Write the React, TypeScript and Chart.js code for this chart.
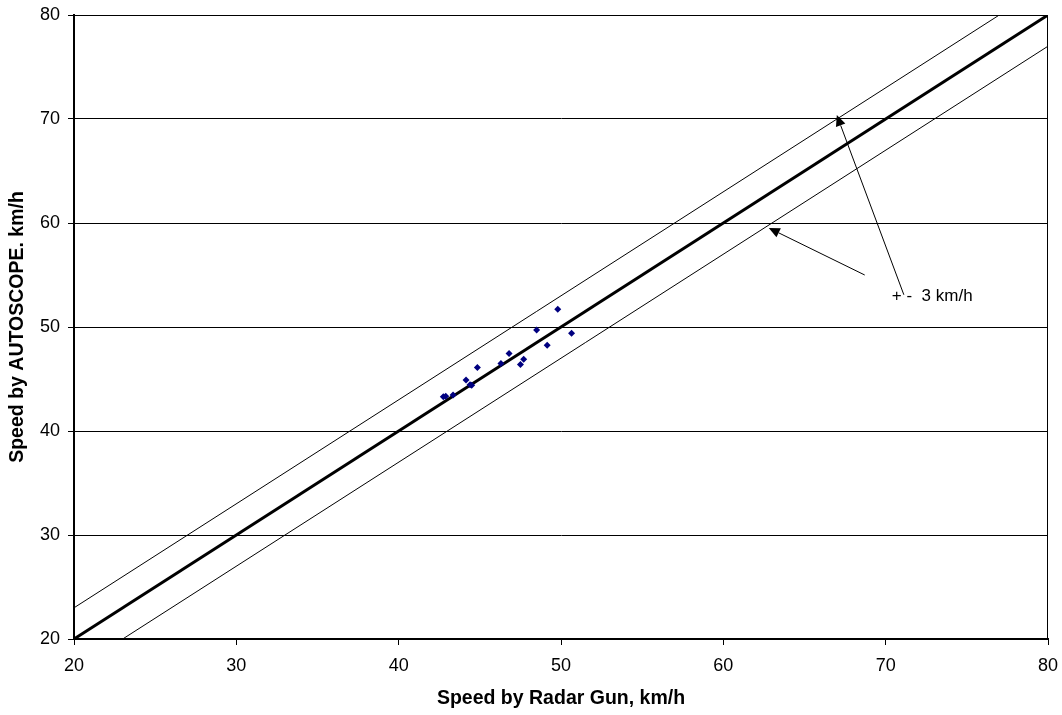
import React, { useEffect, useRef } from 'react';
import { Chart, registerables } from 'chart.js';

Chart.register(...registerables);

// Measured points: speed by radar gun (x) vs speed by AUTOSCOPE (y), km/h
const radarGun = [49.8, 48.5, 50.65, 49.15, 46.8, 46.3, 47.7, 47.5, 44.85, 44.15, 44.4, 44.5, 43.35, 42.75, 42.9];
const autoscope = [51.7, 49.7, 49.4, 48.25, 47.45, 46.5, 46.9, 46.4, 46.1, 44.9, 44.45, 44.4, 43.45, 43.3, 43.35];

// Reference lines: y = x and the +/- 3 km/h band
const equalX = [20, 80];
const equalY = [20, 80];
const upperX = [20, 77];
const upperY = [23, 80];
const lowerX = [23, 80];
const lowerY = [20, 77];

const axisTicks = [20, 30, 40, 50, 60, 70, 80];

const xTitle = 'Speed by Radar Gun, km/h';
const yTitle = 'Speed by AUTOSCOPE. km/h';

// Annotation (in data units)
const noteText = '+ -  3 km/h';
const noteX = 70.38;
const noteY = 52.95;
const arrowFromX = [71.12, 68.71];
const arrowFromY = [53.1, 55.0];
const arrowToX = [66.99, 62.8];
const arrowToY = [70.38, 59.52];

const FONT = '"Liberation Sans", Arial, Helvetica, sans-serif';

const zip = (xs: number[], ys: number[]) => xs.map((x, i) => ({ x, y: ys[i] }));

const framePlugin = {
  id: 'frameAndNotes',
  beforeDatasetsDraw(chart: any) {
    const { ctx, chartArea } = chart;
    ctx.save();
    ctx.strokeStyle = '#000';
    ctx.lineWidth = 1;
    ctx.beginPath();
    ctx.moveTo(chartArea.left, chartArea.top + 0.5);
    ctx.lineTo(chartArea.right - 0.5, chartArea.top + 0.5);
    ctx.lineTo(chartArea.right - 0.5, chartArea.bottom);
    ctx.stroke();
    ctx.restore();
  },
  afterDatasetsDraw(chart: any) {
    const { ctx } = chart;
    const xs = chart.scales.x;
    const ys = chart.scales.y;
    ctx.save();
    ctx.strokeStyle = '#000';
    ctx.fillStyle = '#000';
    ctx.lineWidth = 1;
    for (let i = 0; i < arrowFromX.length; i++) {
      const x0 = xs.getPixelForValue(arrowFromX[i]);
      const y0 = ys.getPixelForValue(arrowFromY[i]);
      const x1 = xs.getPixelForValue(arrowToX[i]);
      const y1 = ys.getPixelForValue(arrowToY[i]);
      const ang = Math.atan2(y1 - y0, x1 - x0);
      const len = 11;
      const hw = 5;
      const bx = x1 - len * Math.cos(ang);
      const by = y1 - len * Math.sin(ang);
      ctx.beginPath();
      ctx.moveTo(x0, y0);
      ctx.lineTo(bx, by);
      ctx.stroke();
      ctx.beginPath();
      ctx.moveTo(x1, y1);
      ctx.lineTo(bx + hw * Math.sin(ang), by - hw * Math.cos(ang));
      ctx.lineTo(bx - hw * Math.sin(ang), by + hw * Math.cos(ang));
      ctx.closePath();
      ctx.fill();
    }
    ctx.font = `17px ${FONT}`;
    ctx.textAlign = 'left';
    ctx.textBaseline = 'middle';
    ctx.fillText(noteText, xs.getPixelForValue(noteX), ys.getPixelForValue(noteY));
    ctx.restore();
  },
};

export default function App() {
  const ref = useRef<HTMLCanvasElement | null>(null);

  useEffect(() => {
    if (!ref.current) return;
    const chart = new Chart(ref.current, {
      type: 'scatter',
      data: {
        datasets: [
          {
            label: 'Measurements',
            data: zip(radarGun, autoscope),
            backgroundColor: '#000080',
            borderColor: '#000080',
            pointStyle: 'rectRot',
            pointRadius: 3.5,
            borderWidth: 0,
            showLine: false,
          },
          {
            label: 'y = x',
            data: zip(equalX, equalY),
            showLine: true,
            borderColor: '#000',
            borderWidth: 3,
            pointRadius: 0,
          },
          {
            label: '+3',
            data: zip(upperX, upperY),
            showLine: true,
            borderColor: '#000',
            borderWidth: 1,
            pointRadius: 0,
          },
          {
            label: '-3',
            data: zip(lowerX, lowerY),
            showLine: true,
            borderColor: '#000',
            borderWidth: 1,
            pointRadius: 0,
          },
        ],
      },
      options: {
        responsive: false,
        animation: false,
        layout: { padding: { left: 0, top: 15, right: 14, bottom: 0 } },
        plugins: {
          legend: { display: false },
          tooltip: { enabled: false },
        },
        scales: {
          x: {
            type: 'linear',
            min: 20,
            max: 80,
            afterBuildTicks: (s: any) => {
              s.ticks = axisTicks.map((v) => ({ value: v }));
            },
            afterFit: (s: any) => {
              s.height = 76;
              s.paddingLeft = 0;
              s.paddingRight = 0;
            },
            border: { display: true, color: '#000', width: 2 },
            grid: { drawOnChartArea: false, drawTicks: true, tickLength: 6, tickColor: '#000', lineWidth: 1 },
            ticks: { color: '#000', padding: 10, font: { family: FONT, size: 18 }, maxRotation: 0 },
            title: {
              display: true,
              text: xTitle,
              color: '#000',
              font: { family: FONT, size: 19.5, weight: 'bold' },
              padding: { top: 0, bottom: 5 },
            },
          },
          y: {
            type: 'linear',
            min: 20,
            max: 80,
            afterBuildTicks: (s: any) => {
              s.ticks = axisTicks.map((v) => ({ value: v }));
            },
            afterFit: (s: any) => {
              s.width = 74;
              s.paddingTop = 0;
              s.paddingBottom = 0;
            },
            border: { display: true, color: '#000', width: 2 },
            grid: { drawOnChartArea: true, drawTicks: true, tickLength: 6, color: '#000', tickColor: '#000', lineWidth: 1 },
            ticks: { color: '#000', padding: 8, font: { family: FONT, size: 18 } },
            title: {
              display: true,
              text: yTitle,
              color: '#000',
              font: { family: FONT, size: 19.5, weight: 'bold' },
              padding: { top: 6, bottom: 0 },
            },
          },
        },
      },
      plugins: [framePlugin],
    } as any);
    return () => chart.destroy();
  }, []);

  return (
    <div style={{ position: 'fixed', left: 0, top: 0, width: 1062, height: 715, background: '#fff' }}>
      <canvas ref={ref} width={1062} height={715} style={{ display: 'block' }} />
    </div>
  );
}
